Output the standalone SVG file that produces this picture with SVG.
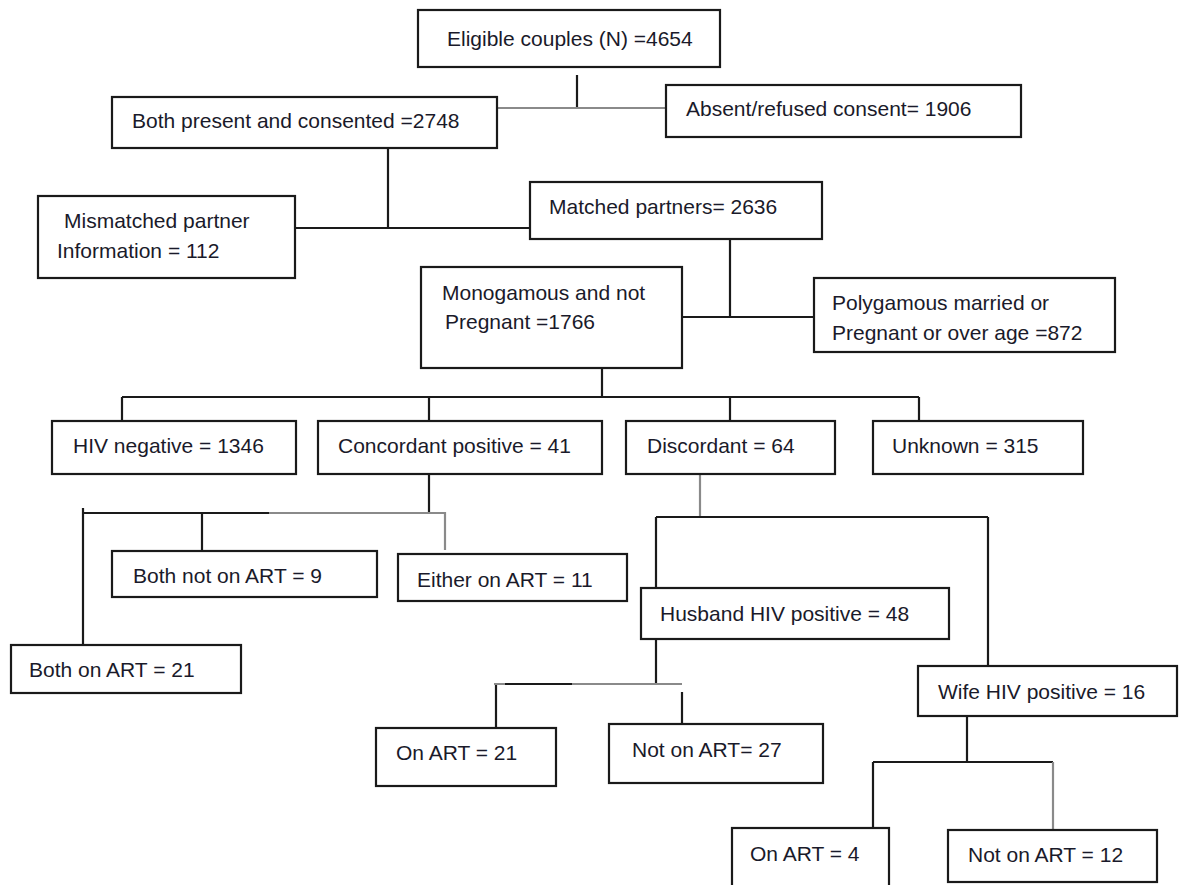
<svg xmlns="http://www.w3.org/2000/svg" width="1187" height="885" viewBox="0 0 1187 885">
<style>
.box{fill:#fff;stroke:#1a1a1a;stroke-width:2.2}
.t{font-family:"Liberation Sans",Arial,sans-serif;font-size:21px;fill:#1a1a2a}
.c{stroke:#1a1a1a;stroke-width:2.2;fill:none}
.g{stroke:#8a8a8a;stroke-width:2.2;fill:none}
</style>
<rect width="1187" height="885" fill="#fff"/>
<g id="connectors">
<path class="c" d="M577 75V108"/>
<path class="g" d="M497 108H666"/>
<path class="c" d="M388 148V228M295 228H530"/>
<path class="c" d="M730 239V317M682 317H814"/>
<path class="c" d="M602 368V397M122 397H919M122 397V421M429 397V421M730 397V421M919 397V421"/>
<path class="c" d="M429 474V513M83 513H269M202 513V551M83 508V645"/>
<path class="g" d="M269 513H445V550"/>
<path class="g" d="M700 474V517"/>
<path class="c" d="M656 517H988M656 517V588M988 517V666"/>
<path class="c" d="M656 639V684M505 684H572M496 684V728M682 692V725"/>
<path class="g" d="M494 684H505M572 684H682"/>
<path class="c" d="M967 716V762M873 762H1053M873 762V828"/>
<path class="g" d="M1053 762V830"/>
</g>
<g id="n-eligible"><rect class="box" x="418" y="10" width="302" height="57"/><text class="t" x="447" y="46">Eligible couples (N) =4654</text></g>
<g id="n-both-present"><rect class="box" x="112" y="97" width="385" height="51"/><text class="t" x="132" y="128">Both present and consented =2748</text></g>
<g id="n-absent"><rect class="box" x="666" y="85" width="355" height="52"/><text class="t" x="686" y="116">Absent/refused consent= 1906</text></g>
<g id="n-mismatched"><rect class="box" x="38" y="196" width="257" height="82"/><text class="t" x="64" y="228">Mismatched partner</text><text class="t" x="57" y="258">Information = 112</text></g>
<g id="n-matched"><rect class="box" x="530" y="182" width="292" height="57"/><text class="t" x="549" y="214">Matched partners= 2636</text></g>
<g id="n-monogamous"><rect class="box" x="421" y="267" width="261" height="101"/><text class="t" x="442" y="300">Monogamous and not</text><text class="t" x="445" y="329">Pregnant =1766</text></g>
<g id="n-polygamous"><rect class="box" x="814" y="278" width="301" height="74"/><text class="t" x="832" y="310">Polygamous married or</text><text class="t" x="832" y="340">Pregnant or over age =872</text></g>
<g id="n-hivneg"><rect class="box" x="52" y="421" width="244" height="53"/><text class="t" x="73" y="453">HIV negative = 1346</text></g>
<g id="n-concordant"><rect class="box" x="318" y="421" width="284" height="53"/><text class="t" x="338" y="453">Concordant positive = 41</text></g>
<g id="n-discordant"><rect class="box" x="626" y="421" width="209" height="53"/><text class="t" x="647" y="453">Discordant = 64</text></g>
<g id="n-unknown"><rect class="box" x="873" y="421" width="210" height="53"/><text class="t" x="892" y="453">Unknown = 315</text></g>
<g id="n-both-not-art"><rect class="box" x="112" y="551" width="265" height="46"/><text class="t" x="133" y="583">Both not on ART = 9</text></g>
<g id="n-either-art"><rect class="box" x="398" y="554" width="229" height="47"/><text class="t" x="417" y="587">Either on ART = 11</text></g>
<g id="n-both-art"><rect class="box" x="11" y="645" width="230" height="48"/><text class="t" x="29" y="677">Both on ART = 21</text></g>
<g id="n-husband"><rect class="box" x="641" y="588" width="308" height="51"/><text class="t" x="660" y="621">Husband HIV positive = 48</text></g>
<g id="n-wife"><rect class="box" x="918" y="666" width="259" height="50"/><text class="t" x="938" y="699">Wife HIV positive = 16</text></g>
<g id="n-h-on-art"><rect class="box" x="376" y="728" width="180" height="58"/><text class="t" x="396" y="760">On ART = 21</text></g>
<g id="n-h-not-art"><rect class="box" x="609" y="724" width="214" height="59"/><text class="t" x="632" y="757">Not on ART= 27</text></g>
<g id="n-w-on-art"><rect class="box" x="732" y="828" width="157" height="62"/><text class="t" x="750" y="861">On ART = 4</text></g>
<g id="n-w-not-art"><rect class="box" x="948" y="830" width="209" height="52"/><text class="t" x="968" y="862">Not on ART = 12</text></g>
</svg>
